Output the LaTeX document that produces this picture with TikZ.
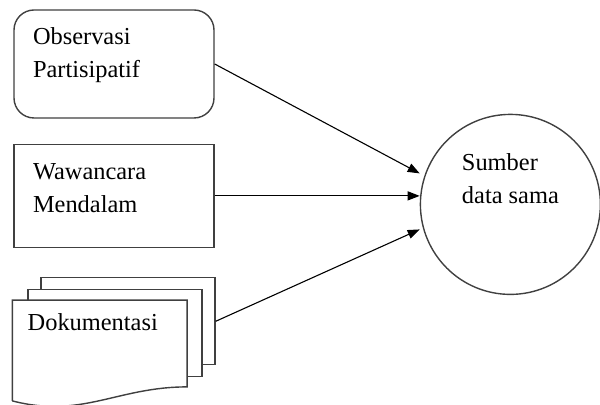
\documentclass[tikz,border=0pt]{standalone}
\usepackage{fontspec}
\setmainfont{Liberation Serif}
\usetikzlibrary{shapes.geometric, arrows.meta, positioning}

\begin{document}
\begin{tikzpicture}[node distance=12.5pt]

% --- Define Styles ---
\tikzstyle{txt} = [font=\fontsize{12.2}{16.5}\selectfont, text=black]
\tikzstyle{srcbox} = [txt, rectangle, draw=black!75, line width=0.7pt, fill=white, minimum width=100pt, text width=81pt, inner xsep=9.5pt, inner ysep=0pt, align=left, text height=17.5pt]
\tikzstyle{docpage} = [rectangle, draw=black!75, line width=0.7pt, fill=white, minimum width=87pt, minimum height=43.5pt, inner sep=0pt]
\tikzstyle{docfront} = [txt, rectangle, fill=white, minimum width=87pt, text width=72pt, inner xsep=7.5pt, inner ysep=0pt, align=left, text height=15pt, text depth=35pt]
\tikzstyle{target} = [txt, circle, draw=black!75, line width=0.7pt, minimum size=90pt, inner sep=0pt, align=left, text height=30pt, text depth=31pt]
\tikzstyle{arrow} = [line width=0.55pt, -{Triangle[length=6pt,width=4.5pt]}]

\useasboundingbox (0,0) rectangle (300pt,-202.5pt);

% --- Nodes ---
\node (obs) [srcbox, rounded corners=10pt, text depth=36.5pt] at (57pt,-32pt) {Observasi\\Partisipatif};
\node (waw) [srcbox, below=of obs, text depth=34pt] {Wawancara\\Mendalam};

\node (docback) [docpage, below=14.5pt of waw, xshift=7pt] {};
\node (docmid) [docpage, anchor=north west] at ([shift={(-6.5pt,-6pt)}]docback.north west) {};
\node (doc) [docfront, anchor=north west] at ([shift={(-7.5pt,-5.5pt)}]docmid.north west) {Dokumentasi};
\draw [black!75, line width=0.7pt] (doc.south west) -- (doc.north west) -- (doc.north east) -- ([yshift=7pt]doc.south east) .. controls +(-35pt,0pt) and +(35pt,-9pt) .. (doc.south west);

\node (sumber) [target, right=102.5pt of waw, yshift=-4.25pt] {Sumber\\data sama};

% --- Arrows ---
\draw [arrow] (obs.east) -- ([yshift=15.5pt]sumber.west);
\draw [arrow] (waw.east) -- (waw.east -| sumber.west);
\draw [arrow] (docback.east) -- ([yshift=-12.5pt]sumber.west);

\end{tikzpicture}
\end{document}
